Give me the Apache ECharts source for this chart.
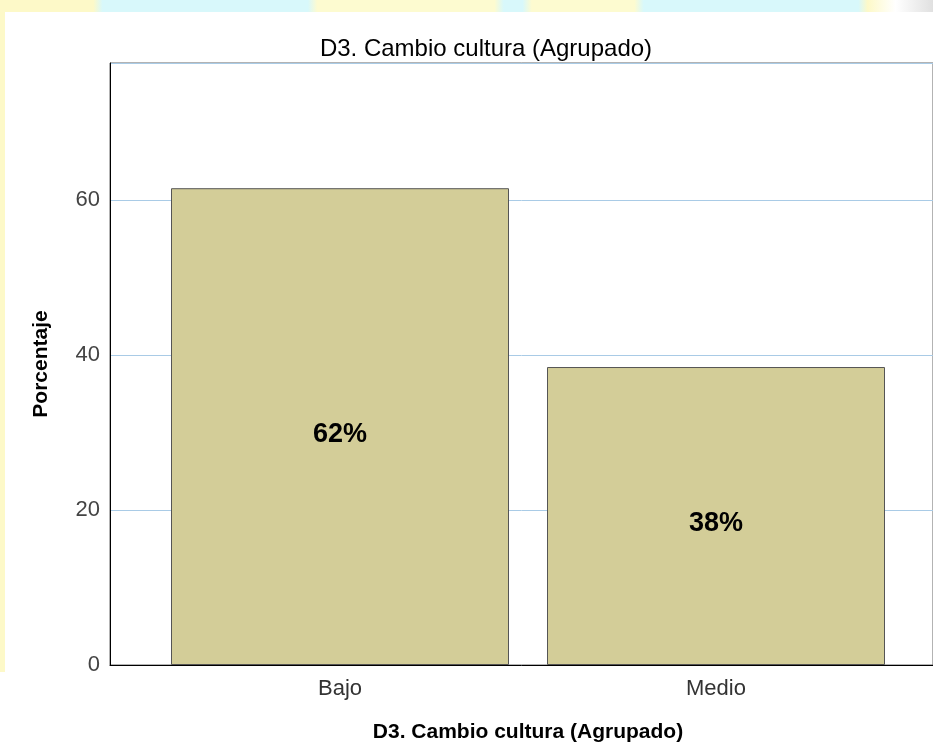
<!DOCTYPE html>
<html>
<head>
<meta charset="utf-8">
<script src="https://cdn.jsdelivr.net/npm/echarts@6/dist/echarts.min.js"></script>
<style>
html,body{margin:0;padding:0;background:#fff;}
#c{width:933px;height:751px;}
</style>
</head>
<body>
<div id="c"></div>
<script>
var categories = ['Bajo', 'Medio'];
var percentages = [61.54, 38.46];
var yTicks = [0, 20, 40, 60];
var chartTitle = 'D3. Cambio cultura (Agrupado)';
var xTitle = 'D3. Cambio cultura (Agrupado)';
var yTitle = 'Porcentaje';

var FONT = '"Liberation Sans", Arial, sans-serif';
var chart = echarts.init(document.getElementById('c'), null, {renderer: 'canvas'});

var option = {
  backgroundColor: '#ffffff',
  animation: false,
  title: {
    text: chartTitle,
    left: 481,
    top: 32,
    textAlign: 'center',
    textStyle: {fontFamily: FONT, fontSize: 24, fontWeight: 'normal', color: '#000'}
  },
  graphic: [
    {type: 'rect', left: 0, top: 0, shape: {width: 933, height: 12}, z: -10,
     style: {fill: new echarts.graphic.LinearGradient(0, 0, 1, 0, [
       {offset: 0, color: '#fdf9c8'}, {offset: 0.1, color: '#fdf9c8'},
       {offset: 0.11, color: '#d8f8fb'}, {offset: 0.33, color: '#d8f8fb'},
       {offset: 0.34, color: '#fdfbd0'}, {offset: 0.53, color: '#fdfbd0'},
       {offset: 0.54, color: '#d8f8fb'}, {offset: 0.56, color: '#d8f8fb'},
       {offset: 0.57, color: '#fdfbd0'}, {offset: 0.68, color: '#fdfbd0'},
       {offset: 0.69, color: '#d8f8fb'}, {offset: 0.92, color: '#d8f8fb'},
       {offset: 0.93, color: '#fdf9c8'}, {offset: 0.96, color: '#ffffff'},
       {offset: 1, color: '#e0e0e0'}
     ])}},
    {type: 'rect', left: 0, top: 12, shape: {width: 5, height: 660}, z: -10,
     style: {fill: '#fdf9c8'}}
  ],
  grid: [
    {left: 110, top: 63, bottom: 86, right: -30, show: true, borderColor: '#666', borderWidth: 1, backgroundColor: 'transparent'},
    {left: 152, top: 63, bottom: 86, width: 752}
  ],
  xAxis: [
    {gridIndex: 0, type: 'value', min: 0, max: 1,
     axisLine: {show: true, lineStyle: {color: '#000', width: 1}},
     axisTick: {show: false}, axisLabel: {show: false}, splitLine: {show: false}},
    {gridIndex: 1, type: 'category', data: categories,
     axisLine: {show: false}, axisTick: {show: false}, splitLine: {show: false},
     axisLabel: {fontFamily: FONT, fontSize: 22, color: '#333', margin: 13},
     name: xTitle, nameLocation: 'middle', nameGap: 57,
     nameTextStyle: {fontFamily: FONT, fontSize: 21, fontWeight: 'bold', color: '#000'}}
  ],
  yAxis: [
    {gridIndex: 0, type: 'value', min: 0, max: 77.7, interval: 20,
     axisLine: {show: true, lineStyle: {color: '#000', width: 1}},
     axisTick: {show: false},
     axisLabel: {fontFamily: FONT, fontSize: 22, color: '#444', margin: 10,
       formatter: function (v) { return yTicks.indexOf(v) >= 0 ? String(v) : ''; }},
     splitLine: {show: true, lineStyle: {color: '#a9cbe6', width: 1}},
     name: yTitle, nameLocation: 'middle', nameGap: 58,
     nameTextStyle: {fontFamily: FONT, fontSize: 21, fontWeight: 'bold', color: '#000'}},
    {gridIndex: 1, type: 'value', min: 0, max: 77.7, show: false, splitLine: {show: false}}
  ],
  series: [{
    type: 'bar',
    xAxisIndex: 1, yAxisIndex: 1,
    data: percentages,
    barWidth: 338,
    itemStyle: {color: '#d3cd98', borderColor: '#555', borderWidth: 1},
    label: {
      show: true, position: 'inside', offset: [0, 8],
      fontFamily: FONT, fontSize: 27, fontWeight: 'bold', color: '#000',
      formatter: function (p) { return Math.round(p.value) + '%'; }
    }
  }]
};
chart.setOption(option);
</script>
</body>
</html>
